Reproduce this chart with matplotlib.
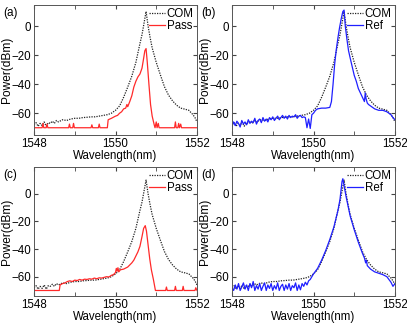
import matplotlib
matplotlib.use('Agg')
import matplotlib.pyplot as plt
from matplotlib.ticker import MultipleLocator

plt.rcParams['font.family'] = ['Liberation Sans', 'DejaVu Sans']
plt.rcParams['axes.unicode_minus'] = True

# COM spectrum (same reference in all four panels)
com_wl = [1548.00, 1548.05, 1548.10, 1548.15, 1548.20, 1548.25, 1548.30, 1548.35, 1548.40, 1548.45,
          1548.50, 1548.55, 1548.60, 1548.70, 1548.80, 1548.90, 1549.00, 1549.10, 1549.20, 1549.30,
          1549.40, 1549.50, 1549.60, 1549.70, 1549.80, 1549.90, 1550.00, 1550.10, 1550.20, 1550.30,
          1550.40, 1550.50, 1550.60, 1550.65, 1550.70, 1550.75, 1550.80, 1550.85, 1550.90, 1551.00,
          1551.10, 1551.20, 1551.30, 1551.40, 1551.50, 1551.60, 1551.70, 1551.80, 1551.90, 1551.95,
          1552.00]
com_db = [-68, -66.5, -69, -67, -68.5, -66, -69, -66.5, -67, -65.5,
          -67, -65, -66, -64.5, -65, -64, -63.5, -63.5, -63, -62.8,
          -62.5, -62.5, -62, -61.5, -61, -60, -58, -55, -49, -42,
          -34.5, -25, -12, -6, 2, 10, 0, -8, -15, -25,
          -33.5, -41.7, -47.5, -51.5, -54.5, -56.5, -57.2, -58, -61, -63,
          -66]

# (a) Pass
pa_wl = [1548.00, 1548.20, 1548.22, 1548.24, 1548.30, 1548.32, 1548.34, 1548.85, 1548.87, 1548.89,
         1548.95, 1548.97, 1548.99, 1549.40, 1549.42, 1549.44, 1549.58, 1549.60, 1549.62, 1549.80,
         1549.82, 1549.90, 1550.00, 1550.05, 1550.10, 1550.15, 1550.20, 1550.25, 1550.28, 1550.30,
         1550.35, 1550.40, 1550.45, 1550.50, 1550.55, 1550.60, 1550.65, 1550.68, 1550.72, 1550.75,
         1550.78, 1550.82, 1550.86, 1550.90, 1550.95, 1550.97, 1551.00, 1551.02, 1551.05, 1551.07,
         1551.45, 1551.47, 1551.49, 1551.53, 1551.55, 1551.57, 1551.60, 1551.62, 1552.00]
pa_db = [-70, -70, -67, -70, -70, -67.5, -70, -70, -67.5, -70,
         -70, -67, -70, -70, -68, -70, -70, -67.5, -70, -70,
         -64.5, -63.5, -62, -61.5, -60, -59, -57, -56.5, -54, -55.5,
         -52, -48, -42, -38, -35, -33, -29, -24, -17, -15.5,
         -25, -40, -54, -62, -68, -70, -66, -70, -67, -70,
         -70, -66, -70, -70, -67, -70, -67.5, -70, -70]

# wavelength grid for the noisy baselines
base_wl = [1548.00, 1548.04, 1548.08, 1548.12, 1548.16, 1548.20, 1548.24, 1548.28, 1548.32, 1548.36,
           1548.40, 1548.44, 1548.48, 1548.52, 1548.56, 1548.60, 1548.64, 1548.68, 1548.72, 1548.76,
           1548.80, 1548.84, 1548.88, 1548.92, 1548.96, 1549.00, 1549.04, 1549.08, 1549.12, 1549.16,
           1549.20, 1549.24, 1549.28, 1549.32, 1549.36, 1549.40, 1549.44, 1549.48, 1549.52, 1549.56,
           1549.60, 1549.64, 1549.68, 1549.72, 1549.76, 1549.80, 1549.84, 1549.88, 1549.92, 1549.96]

# (b) Ref
rb_wl = base_wl + [1550.00, 1550.05, 1550.10, 1550.20, 1550.30, 1550.40, 1550.44, 1550.48, 1550.52, 1550.56,
                   1550.60, 1550.64, 1550.68, 1550.72, 1550.75, 1550.78, 1550.82, 1550.86, 1550.90, 1550.95,
                   1551.00, 1551.05, 1551.10, 1551.15, 1551.20, 1551.25, 1551.27, 1551.29, 1551.32, 1551.35,
                   1551.40, 1551.50, 1551.60, 1551.70, 1551.80, 1551.90, 1551.95, 1552.00]
rb_db = [-69, -66, -68.5, -65.5, -67, -69.5, -65, -67.5, -66, -68,
         -64.5, -67, -65.5, -66.5, -63.5, -67.5, -65, -64, -66.5, -63,
         -65.5, -64, -66, -63, -64.5, -62.5, -65, -63.5, -62, -64.5,
         -63, -61.5, -63.5, -62, -64, -61.5, -63, -62, -62.5, -61,
         -63.5, -62, -61.5, -63, -62.5, -63, -70, -64, -70.5, -61,
         -60, -58, -57, -56.5, -56.5, -56, -52, -40, -26, -16,
         -8, -1, 5, 10, 11, 0, -9, -17, -22, -28,
         -34, -38, -43, -46, -49, -52, -46, -50, -53, -54,
         -55, -57, -58, -58, -59, -61, -63, -64.5]

# (c) Pass
pc_wl = [1548.00, 1548.62, 1548.64, 1548.70, 1548.76, 1548.82, 1548.88, 1548.94, 1549.00, 1549.06,
         1549.12, 1549.18, 1549.24, 1549.30, 1549.36, 1549.42, 1549.48, 1549.54, 1549.60, 1549.66,
         1549.72, 1549.78, 1549.84, 1549.90, 1549.95, 1550.00, 1550.02, 1550.04, 1550.06, 1550.08,
         1550.12, 1550.20, 1550.30, 1550.40, 1550.45, 1550.50, 1550.55, 1550.60, 1550.65, 1550.69,
         1550.73, 1550.76, 1550.80, 1550.84, 1550.88, 1550.93, 1550.98, 1551.23, 1551.25, 1551.27,
         1551.45, 1551.47, 1551.49, 1551.64, 1551.66, 1551.68, 1551.95, 1551.97, 1552.00]
pc_db = [-70, -70, -66, -65, -64.5, -63.5, -63, -63.5, -62.5, -62.8,
         -62, -62.5, -61.8, -62, -61.5, -61.8, -61, -61.5, -60.8, -61,
         -60.5, -60, -60.2, -59, -58.5, -57, -54, -56, -53.5, -56.5,
         -55, -54.5, -53, -50, -48, -45, -42, -38, -31, -25,
         -23, -27, -37, -47, -55, -62, -70, -70, -67.5, -70,
         -70, -67, -70, -70, -67, -70, -70, -68, -70]

# (d) Ref
rd_wl = base_wl + [1550.00, 1550.05, 1550.10, 1550.20, 1550.30, 1550.40, 1550.50, 1550.60, 1550.65, 1550.70,
                   1550.72, 1550.75, 1550.80, 1550.85, 1550.90, 1551.00, 1551.10, 1551.20, 1551.25, 1551.28,
                   1551.30, 1551.32, 1551.40, 1551.50, 1551.60, 1551.70, 1551.80, 1551.85, 1551.90, 1551.95,
                   1552.00]
rd_db = [-68, -70, -66, -69, -65, -70, -67.5, -64.5, -69, -66,
         -70, -65, -68, -63.5, -70, -66.5, -69, -65, -70, -67,
         -64.5, -70, -66, -68.5, -65, -70, -66.5, -69, -64.5, -70,
         -67, -65.5, -70, -66, -69, -65, -70, -66.5, -68, -64.5,
         -70, -66, -69.5, -65, -67, -64, -66, -63, -62, -60,
         -58, -56, -54, -48, -41, -33, -24, -12, -4, 9,
         11, 6, -2, -9, -16, -26, -35, -43, -46.5, -50,
         -48, -52, -54.5, -56.5, -57.5, -58.5, -60, -62, -64, -67,
         -65]

fig = plt.figure(figsize=(4.07, 3.25), dpi=100)
W, H = 407.0, 325.0

panels = [
    # (label, x0, y_top, y_bot, ylim, second curve, colour, name)
    ('(a)', 34, 5, 135, (-75, 14.5), pa_wl, pa_db, '#ff2a2a', 'Pass'),
    ('(b)', 232, 5, 135, (-75, 14.5), rb_wl, rb_db, '#1f1fff', 'Ref'),
    ('(c)', 34, 167, 296, (-74, 19.5), pc_wl, pc_db, '#ff2a2a', 'Pass'),
    ('(d)', 232, 167, 296, (-74, 19.5), rd_wl, rd_db, '#1f1fff', 'Ref'),
]

for lab, x0, yt, yb, ylim, wl, db, col, name in panels:
    ax = fig.add_axes([x0 / W, 1 - yb / H, 163 / W, (yb - yt) / H])
    ax.plot(com_wl, com_db, color='#222222', ls=(0, (1, 1)), lw=0.9, label='COM')
    ax.plot(wl, db, color=col, lw=0.9, label=name)
    ax.set_xlim(1548, 1552)
    ax.set_ylim(*ylim)
    ax.xaxis.set_major_locator(MultipleLocator(2))
    ax.xaxis.set_minor_locator(MultipleLocator(1))
    ax.yaxis.set_major_locator(MultipleLocator(20))
    ax.tick_params(which='both', direction='in', top=True, right=True, labelsize=8.3, pad=2,
                   color='#444444', length=3)
    for s in ax.spines.values():
        s.set_linewidth(0.7)
        s.set_color('#555555')
    ax.set_xlabel('Wavelength(nm)', fontsize=8.3, labelpad=0)
    ax.set_ylabel('Power(dBm)', fontsize=8.6)
    # y label right edge about 21 px left of the axes
    ax.yaxis.set_label_coords(-21.0 / 163, 0.5)
    ax.legend(loc='upper right', frameon=False, fontsize=8.3, handlelength=1.4,
              handletextpad=0.1, labelspacing=-0.05, borderpad=0.1, borderaxespad=0.2)
    fig.text((x0 - 31) / W, 1 - (yt + 8) / H, lab, fontsize=8.5, va='center', ha='left')

fig.savefig('out.png', dpi=100)
